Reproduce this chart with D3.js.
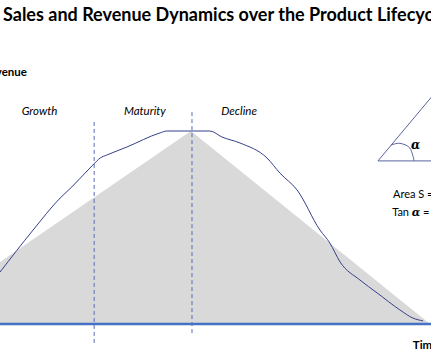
<!DOCTYPE html>
<html>
<head>
<meta charset="utf-8">
<script src="https://cdn.jsdelivr.net/npm/d3@7"></script>
<style>
  html, body { margin: 0; padding: 0; background: #fff; }
  svg { display: block; }
  text { font-family: Lato, "Open Sans", sans-serif; fill: #000; }
</style>
</head>
<body>
<div id="chart"></div>
<script>
// ---- data (time 0..100, revenue 0..100) ----
const revenueTime  = [0, 7.7, 14, 16.7, 21.6, 23.3, 24.9, 29.5, 37.2, 38.8, 48.8, 51.6, 55.8, 62.1, 65.1, 69.1, 74.4, 76.7, 79.1, 83.7, 87.7, 93, 96, 98.4];
const revenueValue = [26.9, 48.7, 65.3, 71, 82.4, 86, 87.6, 91.7, 99, 100, 100, 96.9, 93.8, 86, 78.2, 69.4, 48.7, 42, 32.1, 22.8, 16.1, 7.3, 3.1, 1.6];
const triangleTime  = [-21, 44.4, 100];
const triangleValue = [0, 100, 0];
const phaseNames  = ["Growth", "Maturity", "Decline"];
const phaseCenter = [9.2, 33.7, 55.6];
const phaseBounds = [21.9, 44.65];
const boundTop    = [104.7, 109.8];
const boundBottom = [-9.8, -4.7];
const angleTime   = [87.9, 100.3];
const angleTop    = 117.5;
const angleBase   = 84.5;
const arcTime     = [90.9, 93.0, 95.3, 96.3];
const arcValue    = [92.7, 93.6, 91.2, 84.5];
const formulaLabels = ["Area S = ", "Tan "];

const W = 431, H = 360;
const svg = d3.select("#chart").append("svg").attr("width", W).attr("height", H);
svg.append("rect").attr("width", W).attr("height", H).attr("fill", "#fff");

const x = d3.scaleLinear().domain([0, 100]).range([0, 430]);
const y = d3.scaleLinear().domain([0, 100]).range([324, 131]);

// title
svg.append("text").attr("x", 3).attr("y", 21)
  .style("font-size", "18px").style("font-weight", "bold")
  .text("Sales and Revenue Dynamics over the Product Lifecycle");

// grey triangle
const tri = triangleTime.map((t, i) => [x(t), y(triangleValue[i])]);
svg.append("path").attr("d", d3.line()(tri) + "Z").attr("fill", "#d9d9d9");

// phase boundaries (dashed)
phaseBounds.forEach((t, i) => {
  svg.append("line")
    .attr("x1", x(t)).attr("x2", x(t))
    .attr("y1", y(boundTop[i])).attr("y2", y(boundBottom[i]))
    .attr("stroke", "#5b6bb0").attr("stroke-width", 1)
    .attr("stroke-dasharray", "4,3");
});

// revenue curve
const pts = revenueTime.map((t, i) => [x(t), y(revenueValue[i])]);
svg.append("path").attr("d", d3.line().curve(d3.curveMonotoneX)(pts))
  .attr("fill", "none").attr("stroke", "#34408a").attr("stroke-width", 1);

// time axis baseline
const xAxis = d3.axisBottom(x).tickValues([]).tickSizeOuter(0);
const gx = svg.append("g").attr("transform", `translate(0,${y(0)})`).call(xAxis);
gx.select(".domain").attr("d", `M${x(0)},0H${x(100.3)}`)
  .attr("stroke", "#4472c4").attr("stroke-width", 2.4);

// axis titles
svg.append("text").attr("x", 27).attr("y", y(128.5)).attr("text-anchor", "end")
  .style("font-size", "11.5px").style("font-weight", "bold").text("Revenue");
svg.append("text").attr("x", x(96)).attr("y", y(-12.9))
  .style("font-size", "11.5px").style("font-weight", "bold").text("Time");

// phase labels
phaseNames.forEach((n, i) => {
  svg.append("text").attr("x", x(phaseCenter[i])).attr("y", y(108.3))
    .attr("text-anchor", "middle")
    .style("font-size", "11.5px").style("font-style", "italic").text(n);
});

// angle diagram
const av = [x(angleTime[0]), y(angleBase)];
svg.append("path")
  .attr("d", d3.line()([[x(angleTime[1]), y(angleBase)], av, [x(angleTime[1]), y(angleTop)]]))
  .attr("fill", "none").attr("stroke", "#5a62a0").attr("stroke-width", 1);
svg.append("path")
  .attr("d", d3.line().curve(d3.curveCardinal)(arcTime.map((t, i) => [x(t), y(arcValue[i])])))
  .attr("fill", "none").attr("stroke", "#5a62a0").attr("stroke-width", 1);
svg.append("text").attr("x", x(95.6)).attr("y", y(90.7))
  .style("font-family", "'DejaVu Serif', serif").style("font-size", "12px")
  .style("font-weight", "bold").style("font-style", "italic").text("α");

// formulas
svg.append("text").attr("x", x(91.4)).attr("y", y(65.3))
  .style("font-size", "11px").text(formulaLabels[0]);
const tan = svg.append("text").attr("x", x(91.2)).attr("y", y(56))
  .style("font-size", "11px");
tan.append("tspan").text(formulaLabels[1]);
tan.append("tspan").style("font-family", "'DejaVu Serif', serif")
  .style("font-weight", "bold").style("font-style", "italic").text("α");
tan.append("tspan").text(" =");
</script>
</body>
</html>
